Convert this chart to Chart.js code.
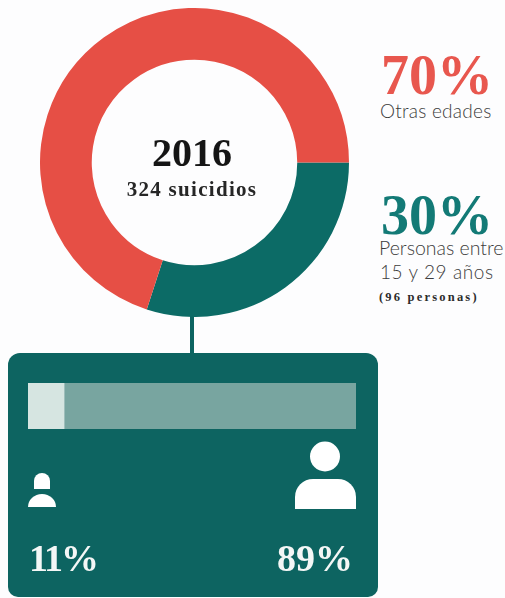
<!DOCTYPE html>
<html lang="es">
<head>
<meta charset="utf-8">
<title>Suicidios 2016</title>
<script src="https://cdn.jsdelivr.net/npm/chart.js@4"></script>
<style>
html,body{margin:0;padding:0;background:#fdfdfe;}
#page{position:relative;width:505px;height:598px;overflow:hidden;}
canvas{position:absolute;display:block;}
.t{position:absolute;white-space:nowrap;line-height:1;}
.serif{font-family:"Liberation Serif",serif;}
.sans{font-family:"Lato","Open Sans",sans-serif;color:#3c3c3c;font-weight:300;}
#card{position:absolute;left:8px;top:353px;width:370px;height:244px;background:#0d6461;border-radius:12px 12px 10px 10px;}
#stem{position:absolute;left:190px;top:312px;width:4px;height:42px;background:#0d6461;}
svg{position:absolute;}
</style>
</head>
<body>
<div id="page">
  <div id="stem"></div>
  <div id="card"></div>
  <canvas id="donut" width="309" height="309" style="left:40px;top:8px"></canvas>
  <canvas id="bar" width="328" height="46" style="left:28px;top:383px"></canvas>

  <div class="t serif" id="year" style="left:92px;width:200px;text-align:center;top:133px;font-size:40px;font-weight:700;color:#151515"></div>
  <div class="t serif" id="total" style="left:92px;width:200px;text-align:center;top:179px;font-size:21px;font-weight:700;letter-spacing:1.3px;color:#262626"></div>

  <div class="t serif" id="p0" style="left:381px;top:47px;font-size:56px;color:#e8574e;font-weight:700"></div>
  <div class="t sans" id="l0" style="left:380px;top:101px;font-size:19px;letter-spacing:.25px"></div>
  <div class="t serif" id="p1" style="left:381px;top:187px;font-size:56px;color:#137a76;font-weight:700"></div>
  <div class="t sans" id="l1" style="left:379px;top:238px;font-size:19.5px"></div>
  <div class="t sans" id="l2" style="left:380px;top:262px;font-size:19px;letter-spacing:.6px"></div>
  <div class="t serif" id="l3" style="left:379px;top:291px;font-size:12.5px;font-weight:700;letter-spacing:2.2px;color:#2c2c2c"></div>

  <svg width="505" height="598" style="left:0;top:0" viewBox="0 0 505 598" fill="#fff">
    <path d="M34 489 V481 A8 8 0 0 1 50 481 V489 Z"/>
    <path d="M28 507 A14 13 0 0 1 56 507 Z"/>
    <circle cx="325" cy="456.5" r="15"/>
    <path d="M295 509 V497 A18 18 0 0 1 313 479 H338 A18 18 0 0 1 356 497 V509 Z"/>
  </svg>

  <div class="t serif" id="b0" style="left:29px;top:539px;font-size:38px;font-weight:700;letter-spacing:-2px;color:#f4f7f6"></div>
  <div class="t serif" id="b1" style="left:277px;top:539px;font-size:38px;font-weight:700;color:#f4f7f6"></div>
</div>
<script>
const donutCategories = ["Personas entre 15 y 29 años", "Otras edades"];
const donutValues = [30, 70];
const donutColors = ["#0c6b66", "#e64f45"];
const barCategories = ["Grupo A", "Grupo B"];
const barValues = [11, 89];
const barColors = ["#d6e5e1", "#78a5a0"];
const yearLabel = "2016";
const totalLabel = "324 suicidios";
const detailLabels = ["Otras edades", "Personas entre", "15 y 29 años", "(96 personas)"];

const set = (id, s) => document.getElementById(id).textContent = s;
set("year", yearLabel);
set("total", totalLabel);
set("p0", donutValues[1] + "%");
set("p1", donutValues[0] + "%");
set("l0", detailLabels[0]);
set("l1", detailLabels[1]);
set("l2", detailLabels[2]);
set("l3", detailLabels[3]);
set("b0", barValues[0] + "%");
set("b1", barValues[1] + "%");

new Chart(document.getElementById("donut"), {
  type: "doughnut",
  data: { labels: donutCategories, datasets: [{ data: donutValues, backgroundColor: donutColors, borderWidth: 0 }] },
  options: {
    responsive: false, animation: false, rotation: 90, cutout: "66.5%",
    layout: { padding: 0 },
    plugins: { legend: { display: false }, tooltip: { enabled: false } }
  }
});

new Chart(document.getElementById("bar"), {
  type: "bar",
  data: {
    labels: ["Total"],
    datasets: barCategories.map((c, i) => ({
      label: c, data: [barValues[i]], backgroundColor: barColors[i], borderWidth: 0,
      barPercentage: 1, categoryPercentage: 1
    }))
  },
  options: {
    indexAxis: "y", responsive: false, animation: false,
    layout: { padding: 0 },
    scales: {
      x: { stacked: true, min: 0, max: 100, display: false },
      y: { stacked: true, display: false }
    },
    plugins: { legend: { display: false }, tooltip: { enabled: false } }
  }
});
</script>
</body>
</html>
